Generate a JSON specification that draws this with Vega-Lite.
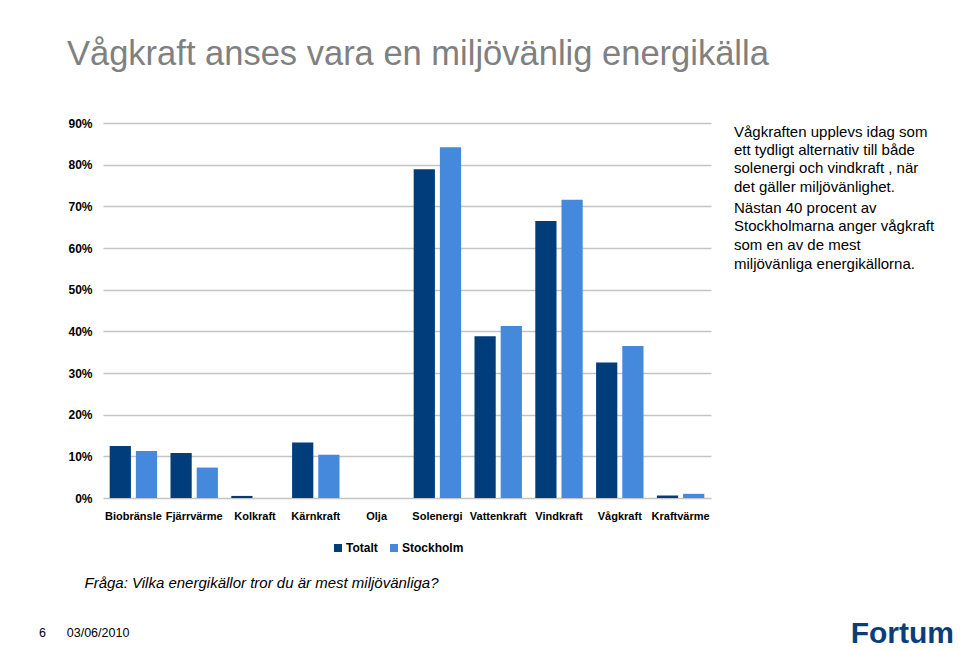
{
  "$schema": "https://vega.github.io/schema/vega-lite/v6.json",
  "background": "white",
  "padding": {"left": 38, "top": 36, "right": 0, "bottom": 0},
  "config": {"font": "Liberation Sans", "view": {"stroke": null}},
  "title": {
    "text": "Vågkraft anses vara en miljövänlig energikälla",
    "anchor": "start",
    "fontSize": 34.5,
    "fontWeight": "normal",
    "color": "#808080",
    "dx": 28,
    "offset": 45
  },
  "spacing": 23,
  "hconcat": [
    {
      "width": 608,
      "height": 375,
      "title": {
        "text": "6\u00a0\u00a0\u00a0\u00a0\u00a0\u00a003/06/2010",
        "orient": "bottom",
        "anchor": "start",
        "baseline": "top",
        "fontSize": 12.5,
        "fontWeight": "normal",
        "color": "black",
        "dx": -29,
        "offset": 37
      },
      "data": {
        "values": [
          {"source": "Biobränsle", "series": "Totalt", "value": 0.125},
          {"source": "Biobränsle", "series": "Stockholm", "value": 0.113},
          {"source": "Fjärrvärme", "series": "Totalt", "value": 0.108},
          {"source": "Fjärrvärme", "series": "Stockholm", "value": 0.073},
          {"source": "Kolkraft", "series": "Totalt", "value": 0.005},
          {"source": "Kolkraft", "series": "Stockholm", "value": 0},
          {"source": "Kärnkraft", "series": "Totalt", "value": 0.133},
          {"source": "Kärnkraft", "series": "Stockholm", "value": 0.104},
          {"source": "Olja", "series": "Totalt", "value": 0},
          {"source": "Olja", "series": "Stockholm", "value": 0},
          {"source": "Solenergi", "series": "Totalt", "value": 0.789},
          {"source": "Solenergi", "series": "Stockholm", "value": 0.842},
          {"source": "Vattenkraft", "series": "Totalt", "value": 0.388},
          {"source": "Vattenkraft", "series": "Stockholm", "value": 0.413},
          {"source": "Vindkraft", "series": "Totalt", "value": 0.665},
          {"source": "Vindkraft", "series": "Stockholm", "value": 0.716},
          {"source": "Vågkraft", "series": "Totalt", "value": 0.325},
          {"source": "Vågkraft", "series": "Stockholm", "value": 0.365},
          {"source": "Kraftvärme", "series": "Totalt", "value": 0.006},
          {"source": "Kraftvärme", "series": "Stockholm", "value": 0.01}
        ]
      },
      "mark": {"type": "bar"},
      "encoding": {
        "x": {
          "field": "source",
          "type": "nominal",
          "sort": null,
          "scale": {"paddingInner": 0.22, "paddingOuter": 0.11},
          "axis": {
            "title": "Fråga: Vilka energikällor tror du är mest miljövänliga?",
            "labelAngle": 0,
            "labelFontWeight": "bold",
            "labelFontSize": 11,
            "labelColor": "black",
            "labelPadding": 12,
            "ticks": false,
            "domain": false,
            "titleFontStyle": "italic",
            "titleFontWeight": "normal",
            "titleFontSize": 15,
            "titleColor": "black",
            "titleAnchor": "start",
            "titleAlign": "left",
            "titleBaseline": "middle",
            "titleX": -19,
            "titleY": 84
          }
        },
        "xOffset": {
          "field": "series",
          "sort": ["Totalt", "Stockholm"],
          "scale": {"paddingInner": 0.19, "paddingOuter": 0}
        },
        "y": {
          "field": "value",
          "type": "quantitative",
          "scale": {"domain": [0, 0.9]},
          "axis": {
            "title": null,
            "format": ".0%",
            "values": [0, 0.1, 0.2, 0.3, 0.4, 0.5, 0.6, 0.7, 0.8, 0.9],
            "labelFontWeight": "bold",
            "labelFontSize": 12,
            "labelColor": "black",
            "labelPadding": 11,
            "ticks": false,
            "domain": false,
            "gridColor": "#c4c4c4",
            "gridWidth": 1.5
          }
        },
        "color": {
          "field": "series",
          "type": "nominal",
          "sort": ["Totalt", "Stockholm"],
          "scale": {"domain": ["Totalt", "Stockholm"], "range": ["#023d7b", "#4489dc"]},
          "legend": {
            "title": null,
            "orient": "none",
            "direction": "horizontal",
            "legendX": 229,
            "legendY": 419,
            "padding": 0,
            "symbolType": "square",
            "symbolSize": 64,
            "symbolStrokeWidth": 0,
            "labelOffset": 2,
            "labelFontWeight": "bold",
            "labelFontSize": 12,
            "labelColor": "black",
            "columnPadding": 10
          }
        }
      }
    },
    {
      "spacing": 335,
      "vconcat": [
        {
          "width": 220,
          "height": 1,
          "data": {"values": [{}]},
          "mark": {"type": "text", "text": ""},
          "title": {
            "text": [
              "Vågkraften upplevs idag som",
              "ett tydligt alternativ till både",
              "solenergi och vindkraft , när",
              "det gäller miljövänlighet."
            ],
            "subtitle": [
              "Nästan 40 procent av",
              "Stockholmarna anger vågkraft",
              "som en av de mest",
              "miljövänliga  energikällorna."
            ],
            "orient": "bottom",
            "anchor": "start",
            "frame": "group",
            "baseline": "top",
            "offset": -4,
            "fontSize": 15,
            "fontWeight": "normal",
            "color": "black",
            "lineHeight": 18.4,
            "subtitleFont": "Liberation Sans",
            "subtitleFontSize": 15,
            "subtitleColor": "black",
            "subtitleLineHeight": 18.7,
            "subtitlePadding": 6
          }
        },
        {
          "width": 220,
          "height": 1,
          "data": {"values": [{}]},
          "mark": {"type": "text", "text": ""},
          "title": {
            "text": "Fortum",
            "orient": "bottom",
            "anchor": "end",
            "frame": "group",
            "baseline": "top",
            "offset": 0,
            "fontSize": 30,
            "fontWeight": "bold",
            "color": "#0b3d7e"
          }
        }
      ]
    }
  ]
}
